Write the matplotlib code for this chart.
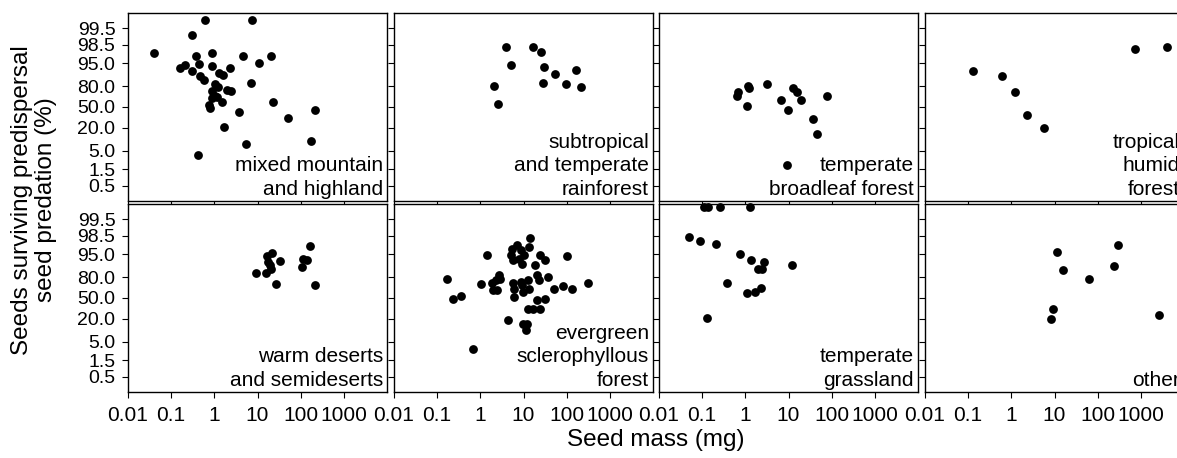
import matplotlib
matplotlib.use('Agg')
import matplotlib.pyplot as plt
from matplotlib.ticker import NullLocator, FixedLocator, FixedFormatter

plt.rcParams['font.family'] = ['Liberation Sans', 'DejaVu Sans']

# panel titles (row by row)
biomes = ['mixed mountain\nand highland',
          'subtropical\nand temperate\nrainforest',
          'temperate\nbroadleaf forest',
          'tropical\nhumid\nforest',
          'warm deserts\nand semideserts',
          'evergreen\nsclerophyllous\nforest',
          'temperate\ngrassland',
          'other']

# seed mass (mg) and seeds surviving (%)
mass_mixed = [0.04, 0.6, 7.5, 0.31, 0.16, 0.21, 0.31, 0.37, 0.44, 0.88, 0.89, 0.46, 0.57,
              1.3, 1.56, 2.3, 4.7, 10.9, 21, 6.9, 1.03, 1.23, 0.88, 1.03, 0.89, 1.17,
              1.93, 2.46, 1.5, 0.76, 0.79, 3.8, 23, 52, 217, 1.64, 5.5, 175, 0.41]
surv_mixed = [97.4, 99.7, 99.7, 99.2, 93.2, 94.5, 92.0, 96.8, 94.6, 97.4, 94.1, 88.7, 86.0,
              90.7, 89.7, 93.2, 96.8, 95.0, 96.8, 83.3, 82.4, 79.6, 74.9, 68.1, 64.7, 65.7,
              75.8, 74.2, 58.8, 53.3, 47.8, 41.2, 57.8, 32.8, 45.0, 20.7, 7.7, 9.4, 3.9]

mass_rain = [4.0, 5.0, 2.1, 2.5, 16.8, 24.9, 29.2, 27.7, 55, 96, 161, 213]
surv_rain = [98.2, 94.5, 80.0, 54.5, 98.3, 97.6, 93.7, 83.1, 90.2, 82.7, 92.1, 79.0]

mass_broad = [0.63, 0.69, 1.17, 1.21, 1.09, 3.1, 6.7, 9.7, 12.9, 15.4, 19.1, 78.7, 36.1, 44.7, 9.2]
surv_broad = [68.1, 73.6, 80.0, 78.2, 52.2, 82.4, 62.0, 45.0, 77.8, 73.6, 61.5, 68.1, 30.5, 13.8, 1.96]

mass_trop = [0.131, 0.605, 1.21, 2.33, 5.7, 714, 3935]
surv_trop = [91.8, 89.1, 72.8, 36.9, 19.3, 98.0, 98.2]

mass_desert = [9.3, 15.6, 16.8, 21.2, 17.7, 19.4, 20.1, 26.7, 33, 108, 114, 137, 163, 210]
surv_desert = [84.6, 84.6, 94.3, 95.2, 91.8, 90.0, 87.8, 71.5, 92.5, 88.9, 93.1, 92.6, 97.0, 70.5]

mass_scler = [0.166, 0.236, 0.35, 0.69, 1.02, 1.44, 1.83, 1.99, 2.46, 2.74, 2.30, 2.9, 4.4,
              5.3, 5.1, 5.6, 5.6, 6.0, 6.0, 6.9, 7.8, 8.6, 9.0, 10.4, 9.8, 9.8, 11.4, 12.9,
              13.1, 14.1, 13.6, 12.2, 12.9, 18.4, 20.1, 16.8, 20.1, 23.1, 24, 24, 31.3, 31.3,
              37.3, 50.6, 99.5, 83, 130, 315, 9.0, 8.7]
surv_scler = [78.6, 47.8, 53.3, 3.2, 72.4, 94.6, 73.2, 62.6, 62.6, 82.8, 76.6, 77.8, 19.0,
              96.5, 94.6, 92.6, 73.2, 65.3, 51.7, 97.2, 93.4, 74.5, 91.0, 94.6, 59.9, 15.2, 10.3, 76.6,
              65.3, 98.3, 96.8, 14.6, 32.9, 90.0, 46.2, 32.9, 82.1, 76.6, 32.9, 94.6, 92.6, 49.0,
              80.4, 65.3, 94.4, 68.7, 65.3, 73.8, 70.1, 96.1]

mass_grass = [0.112, 0.138, 0.258, 1.26, 0.049, 0.089, 0.205, 0.76, 1.33, 2.74, 1.93, 2.46,
              12.0, 0.375, 1.11, 1.64, 2.26, 0.127]
surv_grass = [99.78, 99.78, 99.78, 99.78, 98.4, 97.9, 97.4, 94.9, 92.9, 91.6, 87.8, 87.3,
              90.4, 73.8, 59.0, 59.5, 66.2, 20.4]

mass_other = [11.6, 15.9, 9.3, 8.4, 63.6, 237, 294, 2654]
surv_other = [95.6, 87.1, 31.9, 20.0, 78.6, 89.4, 97.2, 24.2]

masses = [mass_mixed, mass_rain, mass_broad, mass_trop,
          mass_desert, mass_scler, mass_grass, mass_other]
survs = [surv_mixed, surv_rain, surv_broad, surv_trop,
         surv_desert, surv_scler, surv_grass, surv_other]

y_ticks = [0.5, 1.5, 5.0, 20.0, 50.0, 80.0, 95.0, 98.5, 99.5]
x_ticks = [0.01, 0.1, 1, 10, 100, 1000]
x_labels = ['0.01', '0.1', '1', '10', '100', '1000']

W, H = 1177, 458
fig = plt.figure(figsize=(W / 100, H / 100), dpi=100)

col_left = [128, 394, 659, 925]
row_top = [13, 204]
pw, ph = 259, 188

for i in range(8):
    r, c = divmod(i, 4)
    ax = fig.add_axes([col_left[c] / W, 1 - (row_top[r] + ph) / H, pw / W, ph / H])
    ax.scatter(masses[i], [v / 100 for v in survs[i]], s=40, color='black',
               linewidths=0, clip_on=False, zorder=3)
    ax.set_xscale('log')
    ax.set_yscale('logit')
    ax.set_xlim(0.01, 10000)
    ax.set_ylim(0.00182, 0.99818)

    ax.yaxis.set_major_locator(FixedLocator([v / 100 for v in y_ticks]))
    ax.yaxis.set_major_formatter(FixedFormatter([f'{v:.1f}' for v in y_ticks]))
    ax.yaxis.set_minor_locator(NullLocator())
    ax.xaxis.set_major_locator(FixedLocator(x_ticks))
    ax.xaxis.set_major_formatter(FixedFormatter(x_labels))
    ax.xaxis.set_minor_locator(NullLocator())
    ax.tick_params(direction='out', length=4, width=0.8, labelsize=14, pad=5)
    ax.tick_params(axis='x', labelsize=15, pad=6)
    if c != 0:
        ax.tick_params(axis='y', labelleft=False)
    if r == 0:
        ax.tick_params(axis='x', labelbottom=False, length=3)
    for s in ax.spines.values():
        s.set_linewidth(1.0)

    ax.text(0.985, 0.012, biomes[i], transform=ax.transAxes, ha='right', va='bottom',
            fontsize=15, linespacing=1.3)

fig.text(656 / W, 1 - 440 / H, 'Seed mass (mg)', ha='center', va='center', fontsize=17.5)
fig.text(34 / W, 1 - 200 / H, 'Seeds surviving predispersal\nseed predation (%)',
         ha='center', va='center', rotation=90, fontsize=17.5, linespacing=1.15)

fig.savefig('out.png', dpi=100)
